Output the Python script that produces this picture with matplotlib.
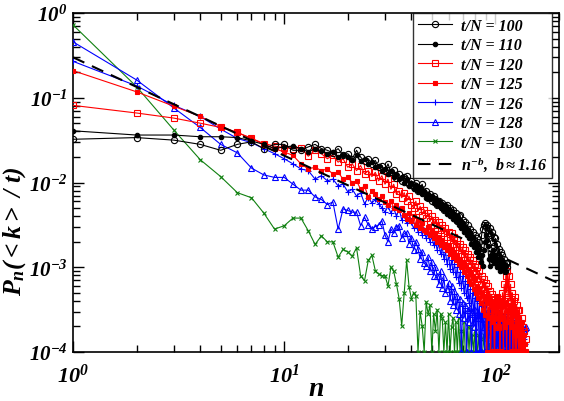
import numpy as np
import matplotlib
matplotlib.use("Agg")
import matplotlib.pyplot as plt
from matplotlib.ticker import LogLocator, NullFormatter

# ---------------- data (log10 of P_n; -4.0 = empty bin, drawn on the axis) -------------
log_p100 = [-1.49, -1.47, -1.50, -1.55, -1.62, -1.55, -1.52, -1.60, -1.55, -1.55,
            -1.62, -1.62, -1.58, -1.55, -1.60, -1.62, -1.65, -1.60, -1.68, -1.66,
            -1.72, -1.62, -1.70, -1.75, -1.72, -1.78, -1.74, -1.82, -1.80, -1.86,
            -1.78, -1.88, -1.85, -1.95, -1.90, -1.98, -1.94, -1.92, -2.02, -1.98,
            -2.05, -2.00, -2.10, -2.06, -2.02, -2.12, -2.10, -2.18, -2.14, -2.22,
            -2.16, -2.20, -2.26, -2.22, -2.28, -2.24, -2.32, -2.28, -2.26, -2.35,
            -2.30, -2.38, -2.33, -2.40, -2.36, -2.45, -2.40, -2.38, -2.48, -2.44,
            -2.52, -2.47, -2.56, -2.50, -2.60, -2.55, -2.64, -2.58, -2.68, -2.62,
            -2.72, -2.66, -2.76, -2.70, -2.80, -2.62, -2.55, -2.50, -2.48, -2.52,
            -2.50, -2.56, -2.60, -2.54, -2.62, -2.58, -2.70, -2.64, -2.75, -2.66,
            -2.80, -2.72, -2.85, -2.78, -2.90, -2.82, -2.95, -2.86, -2.98, -2.90,
            -3.05, -2.95, -3.00, -2.95]

log_p110 = [-1.39, -1.44, -1.44, -1.46, -1.46, -1.47, -1.51, -1.55, -1.60, -1.58,
            -1.57, -1.60, -1.64, -1.60, -1.63, -1.66, -1.64, -1.70, -1.67, -1.70,
            -1.74, -1.68, -1.75, -1.72, -1.78, -1.76, -1.82, -1.80, -1.86, -1.84,
            -1.90, -1.86, -1.93, -1.90, -1.96, -1.93, -2.00, -1.96, -2.04, -2.00,
            -2.08, -2.03, -2.10, -2.06, -2.14, -2.10, -2.18, -2.13, -2.20, -2.16,
            -2.24, -2.19, -2.27, -2.22, -2.30, -2.25, -2.33, -2.28, -2.37, -2.31,
            -2.40, -2.34, -2.43, -2.37, -2.46, -2.40, -2.50, -2.44, -2.54, -2.48,
            -2.58, -2.52, -2.62, -2.56, -2.66, -2.60, -2.72, -2.64, -2.76, -2.70,
            -2.82, -2.74, -2.88, -2.80, -2.94, -2.86, -2.98, -2.80, -2.70, -2.62,
            -2.68, -2.75, -2.90, -2.98, -2.85, -2.92, -2.80, -2.88, -2.95, -2.85,
            -2.92, -3.00, -2.90, -2.98, -3.05, -2.95, -3.02, -2.92, -3.00, -2.96,
            -3.04, -2.98]

log_p120 = [-1.09, -1.18, -1.24, -1.30, -1.35, -1.41, -1.48, -1.54, -1.57, -1.59,
            -1.60, -1.59, -1.69, -1.62, -1.66, -1.72, -1.68, -1.76, -1.72, -1.82,
            -1.78, -1.86, -1.80, -1.90, -1.86, -1.93, -1.88, -1.98, -1.92, -2.02,
            -1.96, -2.08, -2.02, -2.14, -2.10, -2.18, -2.12, -2.22, -2.16, -2.26,
            -2.30, -2.22, -2.34, -2.28, -2.38, -2.32, -2.42, -2.36, -2.46, -2.40,
            -2.50, -2.44, -2.54, -2.47, -2.56, -2.50, -2.60, -2.54, -2.64, -2.58,
            -2.68, -2.60, -2.72, -2.64, -2.76, -2.68, -2.80, -2.72, -2.84, -2.76,
            -2.88, -2.80, -2.92, -2.84, -2.96, -2.88, -3.00, -2.92, -3.04, -2.96,
            -3.08, -3.00, -3.14, -3.04, -3.20, -3.10, -3.26, -3.14, -3.30, -3.18,
            -3.36, -3.22, -3.40, -3.28, -3.50, -3.32, -3.60, -3.38, -4.00, -3.42,
            -3.55, -3.35, -3.70, -3.40, -4.00, -3.45, -3.60, -3.30, -3.50, -3.20,
            -3.40, -3.10, -3.30, -3.05, -3.35, -3.10, -3.40, -3.20, -3.55, -3.30,
            -4.00, -3.40, -3.60, -3.35, -4.00, -3.45, -3.70, -3.50, -4.00, -3.50,
            -3.70, -4.00, -3.60, -4.00, -3.70, -4.00, -3.75, -4.00, -3.85]

log_p125 = [-0.68, -0.93, -1.10, -1.22, -1.34, -1.41, -1.48, -1.55, -1.60, -1.64,
            -1.68, -1.78, -1.84, -1.82, -1.86, -1.84, -1.90, -1.88, -1.96, -1.94,
            -2.00, -1.98, -2.08, -2.04, -2.17, -2.10, -2.14, -2.20, -2.16, -2.23,
            -2.27, -2.22, -2.30, -2.26, -2.33, -2.30, -2.38, -2.43, -2.36, -2.45,
            -2.40, -2.50, -2.44, -2.54, -2.48, -2.56, -2.58, -2.52, -2.62, -2.56,
            -2.66, -2.60, -2.70, -2.64, -2.74, -2.68, -2.76, -2.72, -2.80, -2.74,
            -2.84, -2.78, -2.88, -2.82, -2.92, -2.86, -2.96, -2.90, -3.00, -2.94,
            -3.06, -2.98, -3.10, -3.02, -3.16, -3.06, -3.20, -3.10, -3.26, -3.14,
            -3.30, -3.22, -3.36, -3.26, -3.42, -3.30, -3.50, -3.34, -3.56, -3.38,
            -4.00, -3.42, -3.60, -3.40, -4.00, -3.45, -3.65, -3.46, -4.00, -3.40,
            -3.60, -3.35, -3.70, -3.40, -4.00, -3.45, -3.60, -3.40, -4.00, -3.45,
            -3.70, -3.42, -4.00, -3.50, -3.65, -3.45, -4.00, -3.50, -3.70, -3.55,
            -4.00, -3.50, -3.75, -4.00, -3.55, -4.00, -3.60, -3.80, -4.00, -3.60,
            -4.00, -3.70, -4.00, -3.65, -4.00, -3.80, -4.00, -3.90, -4.00, -4.00]

log_p126 = [-0.57, -0.86, -1.09, -1.22, -1.37, -1.48, -1.53, -1.60, -1.66, -1.72,
            -1.78, -1.84, -1.86, -1.96, -1.92, -1.98, -1.96, -2.04, -2.02, -2.11,
            -2.08, -2.16, -2.12, -2.25, -2.18, -2.24, -2.20, -2.25, -2.30, -2.35,
            -2.28, -2.36, -2.30, -2.40, -2.31, -2.44, -2.38, -2.48, -2.42, -2.47,
            -2.54, -2.48, -2.58, -2.52, -2.62, -2.56, -2.66, -2.60, -2.70, -2.64,
            -2.74, -2.68, -2.80, -2.72, -2.84, -2.76, -2.90, -2.82, -2.96, -2.86,
            -3.02, -2.92, -3.06, -2.96, -3.12, -3.00, -3.18, -3.06, -3.24, -3.10,
            -3.30, -3.16, -3.36, -3.20, -3.42, -3.26, -3.50, -3.30, -3.56, -3.36,
            -4.00, -3.40, -3.60, -3.42, -4.00, -3.46, -3.65, -3.40, -4.00, -3.45,
            -3.60, -4.00, -3.50, -3.70, -3.45, -4.00, -3.50, -3.65, -4.00, -3.55,
            -4.00, -3.50, -3.70, -4.00, -3.55, -4.00, -3.60, -3.75, -4.00, -3.55,
            -4.00, -3.60, -3.80, -4.00, -3.55, -4.00, -3.65, -4.00, -3.60, -3.80,
            -4.00, -3.65, -4.00, -3.70, -4.00, -3.60, -4.00, -3.75, -4.00, -3.65,
            -4.00, -3.80, -4.00, -3.70, -4.00, -3.85, -4.00, -3.90]

log_p128 = [-0.34, -0.79, -1.12, -1.35, -1.55, -1.65, -1.83, -1.91, -1.94, -1.94,
            -2.02, -2.09, -2.09, -2.17, -2.20, -2.26, -2.23, -2.55, -2.31, -2.33,
            -2.35, -2.35, -2.51, -2.41, -2.50, -2.55, -2.52, -2.50, -2.45, -2.62,
            -2.70, -2.55, -2.60, -2.52, -2.51, -2.66, -2.60, -2.59, -2.72, -2.65,
            -2.80, -2.70, -2.78, -2.90, -2.82, -2.95, -2.98, -2.88, -3.05, -2.94,
            -3.10, -3.00, -3.10, -3.20, -3.05, -3.25, -3.12, -3.30, -3.26, -3.18,
            -3.40, -3.22, -3.45, -3.28, -3.50, -3.34, -3.55, -3.38, -4.00, -3.42,
            -3.60, -3.45, -4.00, -3.50, -3.65, -3.48, -4.00, -3.55, -3.70, -3.50,
            -4.00, -3.55, -3.60, -4.00, -3.55, -4.00, -3.60, -3.70, -4.00, -3.55,
            -4.00, -3.60, -4.00, -3.70, -3.60, -4.00, -3.65, -4.00, -3.55, -4.00,
            -3.70, -4.00, -3.60, -4.00, -3.75, -3.65, -4.00, -3.70, -4.00, -3.65,
            -4.00, -3.80, -4.00, -3.70, -4.00, -3.75, -4.00, -3.70, -4.00, -3.80,
            -4.00, -3.72, -4.00, -3.85, -4.00, -3.75, -4.00, -3.80, -4.00, -3.75,
            -4.00, -3.85, -4.00, -3.80, -4.00, -3.75, -4.00, -3.72, -3.70]

log_p130 = [-0.14, -0.87, -1.38, -1.73, -1.93, -2.12, -2.18, -2.36, -2.55, -2.51,
            -2.42, -2.42, -2.57, -2.73, -2.63, -2.70, -2.70, -2.88, -2.79, -2.82,
            -2.87, -2.77, -3.10, -3.16, -2.92, -2.86, -3.04, -3.08, -3.10, -3.10,
            -3.22, -3.00, -3.05, -3.20, -3.37, -3.69, -3.30, -2.92, -3.23, -3.37,
            -3.30, -3.34, -4.00, -3.53, -3.69, -4.00, -3.41, -3.55, -3.45, -4.00,
            -3.55, -3.75, -3.50, -4.00, -3.55, -3.60, -4.00, -3.65, -4.00, -3.55,
            -4.00, -3.70, -3.60, -4.00, -3.65, -4.00, -3.60, -4.00, -3.75, -4.00,
            -3.65, -4.00, -4.00, -3.70, -4.00, -3.70, -4.00, -3.80, -4.00, -3.75,
            -4.00, -4.00, -3.80, -4.00, -3.85, -4.00, -4.00, -3.80, -4.00, -4.00,
            -3.85, -4.00, -4.00, -3.90, -4.00, -4.00, -3.85, -4.00, -4.00, -3.90,
            -4.00, -4.00, -4.00, -3.90, -4.00, -4.00, -4.00, -3.90, -4.00, -4.00]

labels = ["t/N = 100", "t/N = 110", "t/N = 120", "t/N = 125",
          "t/N = 126", "t/N = 128", "t/N = 130"]
fit_amplitude = 0.30
fit_exponent = 1.16
fit_n_range = [1.0, 200.0]

# ---------------- styling ----------------
plt.rcParams['font.family'] = ['Liberation Serif', 'DejaVu Serif']
plt.rcParams['font.weight'] = 'bold'
plt.rcParams['font.style'] = 'italic'
plt.rcParams['mathtext.fontset'] = 'custom'
plt.rcParams['mathtext.rm'] = 'Liberation Serif:bold:italic'
plt.rcParams['mathtext.it'] = 'Liberation Serif:bold:italic'
plt.rcParams['mathtext.bf'] = 'Liberation Serif:bold:italic'
plt.rcParams['mathtext.default'] = 'it'

fig = plt.figure(figsize=(5.64, 4.02), dpi=100)
ax = fig.add_axes([73/564, 1-353/402, (559-73)/564, (353-14)/402])

series = [log_p100, log_p110, log_p120, log_p125, log_p126, log_p128, log_p130]
styles = [
    dict(color='black', marker='o', mfc='none', ms=4.5, mew=0.8),
    dict(color='black', marker='o', mfc='black', ms=3.2, mew=0.8),
    dict(color='#ff0000', marker='s', mfc='none', ms=4.2, mew=0.8),
    dict(color='#ff0000', marker='s', mfc='#ff0000', ms=3.2, mew=0.8),
    dict(color='#0000ff', marker='+', ms=4.5, mew=0.8),
    dict(color='#0000ff', marker='^', mfc='none', ms=4.5, mew=0.8),
    dict(color='#108010', marker='x', ms=3.2, mew=0.8),
]
for i, (vals, lab, st) in enumerate(zip(series, labels, styles)):
    n = np.arange(1, len(vals) + 1)
    p = np.power(10.0, np.array(vals))
    ax.plot(n, p, lw=0.8, label=lab, zorder=10 - i, **st)

fx = np.array(fit_n_range)
ax.plot(fx, fit_amplitude * fx ** (-fit_exponent), color='black', lw=1.5,
        ls=(0, (6, 4)), zorder=20, label=r"$n^{-b}$,  $b \approx 1.16$")

ax.set_xscale('log')
ax.set_yscale('log')
ax.set_xlim(1, 200)
ax.set_ylim(1e-4, 1)
ax.xaxis.set_major_locator(LogLocator(base=10, numticks=10))
ax.yaxis.set_major_locator(LogLocator(base=10, numticks=10))
ax.xaxis.set_minor_locator(LogLocator(base=10, subs=np.arange(2, 10), numticks=20))
ax.yaxis.set_minor_locator(LogLocator(base=10, subs=np.arange(2, 10), numticks=20))
ax.xaxis.set_minor_formatter(NullFormatter())
ax.yaxis.set_minor_formatter(NullFormatter())
ax.tick_params(which='both', direction='in', top=True, right=True, width=1)
ax.tick_params(which='major', length=8)
ax.tick_params(axis='x', which='major', pad=8, labelsize=16)
ax.tick_params(axis='y', which='major', pad=4, labelsize=15)
ax.tick_params(which='minor', length=5)
for s in ax.spines.values():
    s.set_linewidth(1.2)

ax.set_xlabel(r"$n$", fontsize=20)
ax.xaxis.set_label_coords(0.5, -0.07)
ax.set_ylabel(r"$P_n(<k>\ /\ t)$", fontsize=18.5)
ax.yaxis.set_label_coords(-0.092, 0.36)

leg = ax.legend(loc='upper right', bbox_to_anchor=(0.9856, 1.0), borderaxespad=0,
                fontsize=11.5, frameon=True, fancybox=False, edgecolor='black',
                handlelength=2.1, labelspacing=0.22, borderpad=0.3, handletextpad=0.6)
leg.get_frame().set_linewidth(1.0)

fig.savefig("out.png", dpi=100)
